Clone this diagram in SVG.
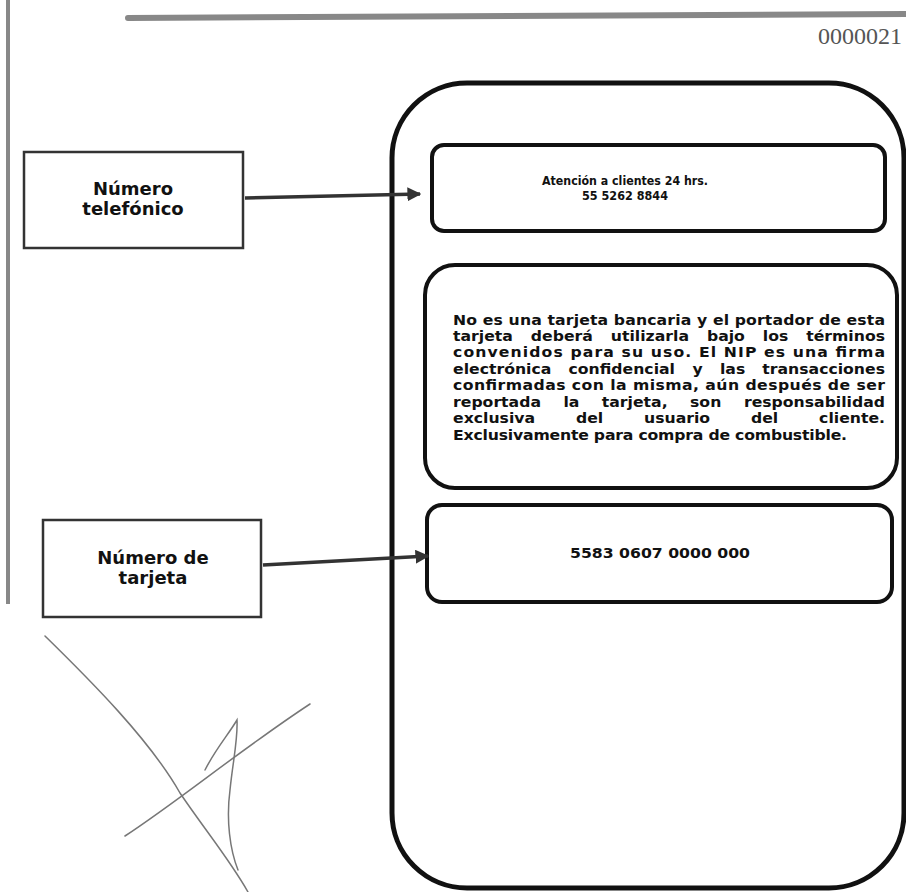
<svg xmlns="http://www.w3.org/2000/svg" width="906" height="892" viewBox="0 0 906 892">
<style>
.t{font-family:"DejaVu Sans",Verdana,sans-serif;font-weight:bold;fill:#111}
.lbl{font-size:18px;text-anchor:middle}
.b{font-size:14px}
.h{font-size:13px}
.c{text-anchor:middle}
.e{text-anchor:end}
.box{fill:none;stroke:#111;stroke-width:4}
.lbox{fill:none;stroke:#333;stroke-width:2.5}
.conn{fill:none;stroke:#333;stroke-width:3.5}
.sig{fill:none;stroke:#777;stroke-width:1.5;stroke-linecap:round}
</style>
<defs>
<marker id="ah" viewBox="0 0 10 10" refX="9" refY="5" markerWidth="4" markerHeight="4" orient="auto" markerUnits="strokeWidth">
<path d="M0,0 L10,5 L0,10 z" fill="#333"/>
</marker>
</defs>
<rect width="906" height="892" fill="#fff"/>
<g id="decor">
<line x1="8" y1="0" x2="8" y2="604" stroke="#888" stroke-width="4"/>
<line x1="128" y1="18" x2="906" y2="14" stroke="#888" stroke-width="6" stroke-linecap="round"/>
<text x="818" y="44" font-family="Liberation Serif,serif" font-size="24" fill="#555">0000021</text>
</g>
<g id="signature">
<path class="sig" d="M45,636 C90,680 150,740 180,793 C205,830 230,860 248,892"/>
<path class="sig" d="M125,836 C180,800 240,750 310,704"/>
<path class="sig" d="M205,770 C215,750 228,735 237,720 C238,740 233,760 230,790 C226,820 230,850 238,870" stroke="#aaa"/>
</g>
<g id="card">
<rect x="392" y="83" width="512" height="805" rx="75" ry="75" fill="none" stroke="#111" stroke-width="5"/>
</g>
<g id="node-atencion">
<rect class="box" x="432" y="145" width="453" height="86" rx="12"/>
<text class="t h c" x="625" y="185" textLength="166" lengthAdjust="spacingAndGlyphs">Atención a clientes 24 hrs.</text>
<text class="t h c" x="625" y="200" textLength="86" lengthAdjust="spacingAndGlyphs">55 5262 8844</text>
</g>
<g id="node-aviso">
<rect class="box" x="425" y="265" width="472" height="223" rx="30"/>
<g class="t b" transform="scale(1.12,1)">
<text x="404.5" y="325" textLength="385.7" lengthAdjust="spacing">No es una tarjeta bancaria y el portador de esta</text>
<text x="404.5" y="341">tarjeta</text><text x="474" y="341">deberá</text><text x="545.4" y="341">utilizarla</text><text x="631.2" y="341">bajo</text><text x="681.1" y="341">los</text><text class="e" x="790.2" y="341">términos</text>
<text x="404.5" y="357" textLength="385.7" lengthAdjust="spacing">convenidos para su uso. El NIP es una firma</text>
<text x="404.5" y="374">electrónica</text><text x="507.6" y="374">confidencial</text><text x="618.4" y="374">y</text><text x="642.8" y="374">las</text><text class="e" x="790.2" y="374">transacciones</text>
<text x="404.5" y="390" textLength="385.7" lengthAdjust="spacing">confirmadas con la misma, aún después de ser</text>
<text x="404.5" y="407">reportada</text><text x="503.1" y="407">la</text><text x="537.3" y="407">tarjeta,</text><text x="616.1" y="407">son</text><text class="e" x="790.2" y="407">responsabilidad</text>
<text x="404.5" y="423">exclusiva</text><text x="514.3" y="423">del</text><text x="575" y="423">usuario</text><text x="670.5" y="423">del</text><text class="e" x="790.2" y="423">cliente.</text>
<text x="404.5" y="440" textLength="351.8" lengthAdjust="spacing">Exclusivamente para compra de combustible.</text>
</g>
</g>
<g id="node-numero">
<rect class="box" x="427" y="505" width="465" height="97" rx="15"/>
<text class="t c" font-size="14" x="660" y="558" textLength="180" lengthAdjust="spacingAndGlyphs">5583 0607 0000 000</text>
</g>
<g id="node-telefono">
<rect class="lbox" x="24" y="152" width="219" height="96"/>
<text class="t lbl" x="133" y="195">Número</text>
<text class="t lbl" x="133" y="215">telefónico</text>
</g>
<g id="node-tarjeta">
<rect class="lbox" x="43" y="520" width="218" height="97"/>
<text class="t lbl" x="153" y="564">Número de</text>
<text class="t lbl" x="153" y="584">tarjeta</text>
</g>
<g id="connectors">
<line class="conn" x1="245" y1="198" x2="420" y2="194" marker-end="url(#ah)"/>
<line class="conn" x1="263" y1="565" x2="428" y2="556" marker-end="url(#ah)"/>
</g>
</svg>
